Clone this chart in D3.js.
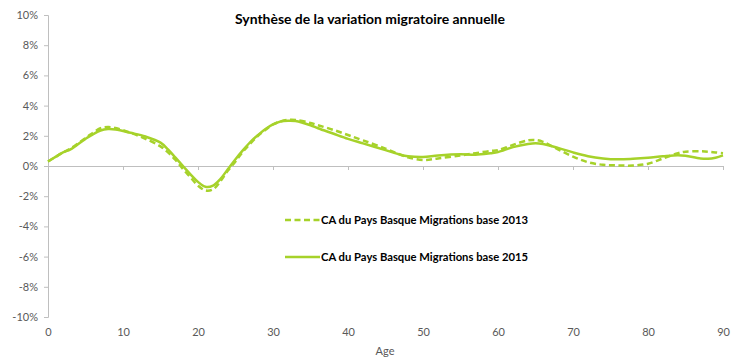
<!DOCTYPE html>
<html>
<head>
<meta charset="utf-8">
<script src="https://cdn.jsdelivr.net/npm/d3@7"></script>
<style>
  html, body { margin: 0; padding: 0; background: #fff; }
  svg { display: block; font-family: Lato, "Open Sans", "Noto Sans", sans-serif; }
</style>
</head>
<body>
<svg id="chart" width="731" height="360"></svg>
<script>
// Annual net migration rate by age (%)
const ages = [0,1,2,3,5,7,8,9,11,13,15,16,17,18,19,20,21,22,23,24,25,26,27,28,29,30,31,32,33,35,36,38,40,42,45,47,48,50,52,55,57,59,60,62,64,65,66,68,70,72,74,76,78,80,82,84,85,87,88,89,90];
const base2013 = [0.3,0.6,0.9,1.15,1.85,2.5,2.58,2.52,2.2,1.8,1.3,0.9,0.4,-0.2,-0.75,-1.3,-1.62,-1.55,-1.0,-0.3,0.3,0.95,1.5,2.0,2.4,2.75,2.95,3.05,3.05,2.85,2.7,2.4,2.05,1.7,1.15,0.75,0.57,0.4,0.5,0.7,0.85,1.0,1.05,1.4,1.7,1.72,1.6,1.1,0.62,0.25,0.08,0.04,0.03,0.15,0.5,0.85,0.95,0.97,0.95,0.9,0.85];
const base2015 = [0.3,0.6,0.9,1.1,1.8,2.35,2.45,2.42,2.2,1.95,1.55,1.1,0.55,0,-0.55,-1.05,-1.38,-1.3,-0.85,-0.2,0.45,1.05,1.6,2.05,2.45,2.75,2.95,3.0,2.98,2.7,2.5,2.15,1.8,1.5,1.05,0.75,0.65,0.6,0.7,0.78,0.75,0.85,0.92,1.25,1.45,1.5,1.45,1.2,0.9,0.65,0.5,0.44,0.48,0.55,0.65,0.72,0.68,0.5,0.48,0.55,0.7];

const seriesNames = ["CA du Pays Basque Migrations base 2013", "CA du Pays Basque Migrations base 2015"];
const yTicks = [-10,-8,-6,-4,-2,0,2,4,6,8,10];
const xTicks = [0,10,20,30,40,50,60,70,80,90];
const title = "Synthèse de la variation migratoire annuelle";
const xTitle = "Age";

const green = "#a6d22a";
const axisGray = "#bfbfbf";
const textGray = "#595959";

const svg = d3.select("#chart");
const x = d3.scaleLinear().domain([0, 90]).range([48, 723]);
const y = d3.scaleLinear().domain([-10, 10]).range([317, 15]);

// Y axis
const yAxis = svg.append("g")
  .attr("transform", `translate(${x(0)},0)`)
  .call(d3.axisLeft(y).tickValues(yTicks).tickSize(4).tickFormat(d => d + "%"));
yAxis.select(".domain").attr("stroke", axisGray);
yAxis.selectAll(".tick line").attr("stroke", axisGray);
yAxis.selectAll(".tick text")
  .attr("x", -10).attr("fill", textGray)
  .style("font-size", "11px").style("font-family", "Lato, 'Open Sans', sans-serif");

// X axis at zero line; labels below the plot area
const xAxis = svg.append("g")
  .attr("transform", `translate(0,${y(0)})`)
  .call(d3.axisBottom(x).tickValues(xTicks).tickSize(4).tickSizeOuter(0).tickFormat(d3.format("d")));
xAxis.select(".domain").attr("stroke", axisGray);
xAxis.selectAll(".tick line").attr("stroke", axisGray);
xAxis.selectAll(".tick text")
  .attr("y", y(-10) - y(0) + 11).attr("fill", textGray)
  .style("font-size", "11px").style("font-family", "Lato, 'Open Sans', sans-serif");

// Lines
const line = d3.line()
  .x((d, i) => x(ages[i]))
  .y(d => y(d))
  .curve(d3.curveCatmullRom.alpha(0.5));

svg.append("path")
  .datum(base2013)
  .attr("d", line)
  .attr("fill", "none")
  .attr("stroke", green)
  .attr("stroke-width", 2.5)
  .attr("stroke-dasharray", "6,3.5");

svg.append("path")
  .datum(base2015)
  .attr("d", line)
  .attr("fill", "none")
  .attr("stroke", green)
  .attr("stroke-width", 2.5);

// Title
svg.append("text")
  .attr("x", 370).attr("y", 24)
  .attr("text-anchor", "middle")
  .attr("fill", "#000")
  .style("font-size", "13px").style("font-weight", "bold")
  .attr("textLength", 270).attr("lengthAdjust", "spacingAndGlyphs")
  .text(title);

// Axis title
svg.append("text")
  .attr("x", 385).attr("y", 355)
  .attr("text-anchor", "middle")
  .attr("fill", textGray)
  .style("font-size", "11px")
  .text(xTitle);

// Legend
const legend = svg.append("g");
const legendRows = [
  { name: seriesNames[0], dash: "6,3.5", y: 220 },
  { name: seriesNames[1], dash: null, y: 257 }
];
legendRows.forEach(r => {
  legend.append("line")
    .attr("x1", 285).attr("x2", 320)
    .attr("y1", r.y).attr("y2", r.y)
    .attr("stroke", green).attr("stroke-width", 2.5)
    .attr("stroke-dasharray", r.dash);
  legend.append("text")
    .attr("x", 321).attr("y", r.y + 4)
    .attr("fill", "#000")
    .style("font-size", "11.5px").style("font-weight", "bold")
    .attr("textLength", 207).attr("lengthAdjust", "spacingAndGlyphs")
    .text(r.name);
});
</script>
</body>
</html>
